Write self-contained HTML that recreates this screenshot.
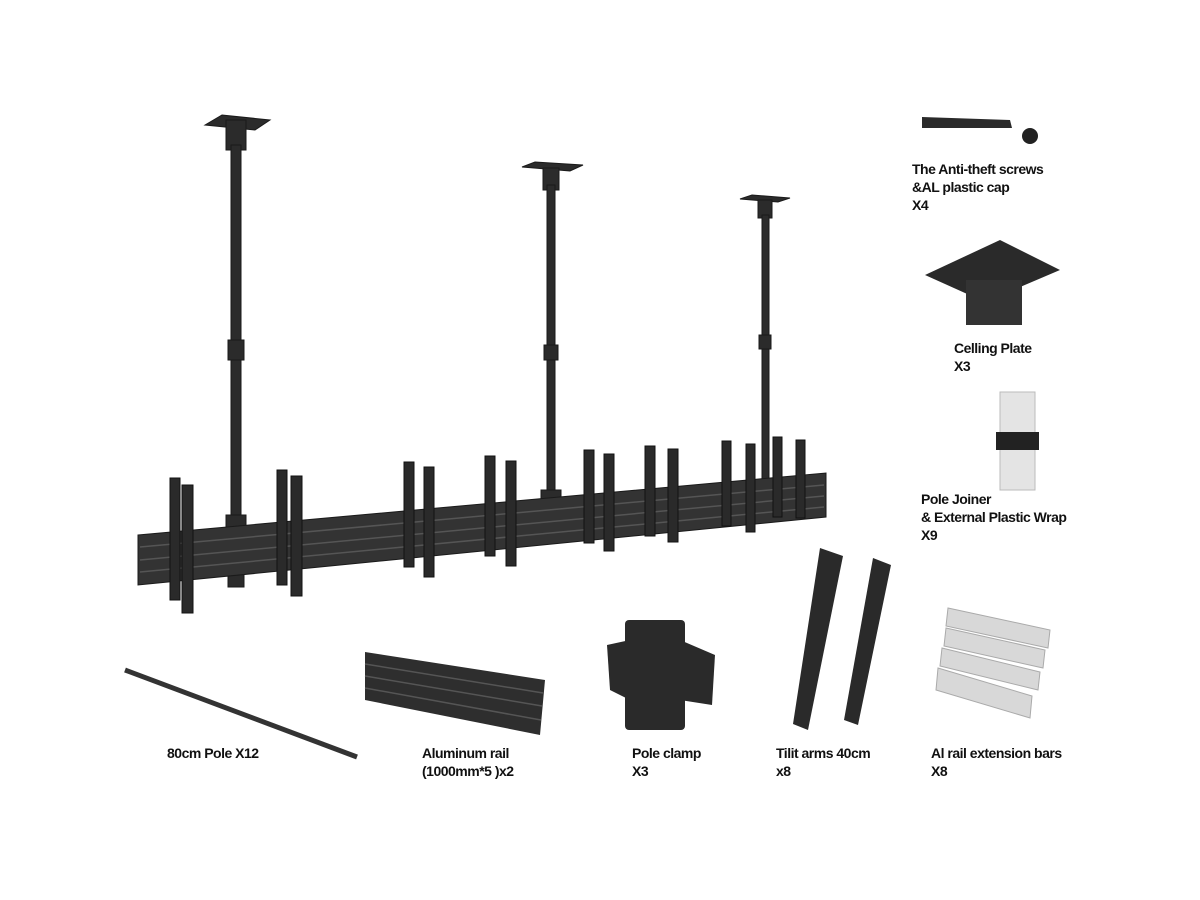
<!DOCTYPE html>
<html><head><meta charset="utf-8"><style>
body{margin:0;width:1200px;height:900px;background:#fff;overflow:hidden;position:relative;font-family:"Liberation Sans",sans-serif}
.t{position:absolute;font-weight:bold;font-size:14px;line-height:18px;color:#111;letter-spacing:-0.5px}
</style></head><body>
<svg width="1200" height="900" style="position:absolute;left:0;top:0">
<g fill="#2b2b2b" stroke="#1a1a1a">
<polygon points="205,125 222,115 270,120 255,130"/>
<rect x="226" y="120" width="20" height="30"/>
<rect x="231" y="145" width="10" height="440"/>
<rect x="228" y="340" width="16" height="20"/>
<rect x="226" y="515" width="20" height="15"/>
<rect x="228" y="565" width="16" height="22"/>
<polygon points="522,167 535,162 583,165 570,171"/>
<rect x="543" y="168" width="16" height="22"/>
<rect x="547" y="185" width="8" height="355"/>
<rect x="544" y="345" width="14" height="15"/>
<rect x="541" y="490" width="20" height="12"/>
<polygon points="740,199 752,195 790,198 778,202"/>
<rect x="758" y="200" width="14" height="18"/>
<rect x="762" y="215" width="7" height="300"/>
<rect x="759" y="335" width="12" height="14"/>
<polygon points="138,535 826,473 826,517 138,585" fill="#333"/>
</g>
<g stroke="#555" stroke-width="1.5">
<line x1="140" y1="547" x2="824" y2="485"/><line x1="140" y1="560" x2="824" y2="496"/><line x1="140" y1="572" x2="824" y2="507"/>
</g>
<g fill="#2a2a2a" stroke="#111">
<rect x="170" y="478" width="10" height="122"/><rect x="182" y="485" width="11" height="128"/>
<rect x="277" y="470" width="10" height="115"/><rect x="291" y="476" width="11" height="120"/>
<rect x="404" y="462" width="10" height="105"/><rect x="424" y="467" width="10" height="110"/>
<rect x="485" y="456" width="10" height="100"/><rect x="506" y="461" width="10" height="105"/>
<rect x="584" y="450" width="10" height="93"/><rect x="604" y="454" width="10" height="97"/>
<rect x="645" y="446" width="10" height="90"/><rect x="668" y="449" width="10" height="93"/>
<rect x="722" y="441" width="9" height="85"/><rect x="746" y="444" width="9" height="88"/>
<rect x="773" y="437" width="9" height="80"/><rect x="796" y="440" width="9" height="78"/>
</g>
<line x1="125" y1="670" x2="357" y2="757" stroke="#333" stroke-width="5"/>
<polygon points="365,652 545,680 540,735 365,700" fill="#2e2e2e"/>
<g stroke="#555" stroke-width="1.5"><line x1="365" y1="664" x2="543" y2="693"/><line x1="365" y1="676" x2="542" y2="706"/><line x1="365" y1="688" x2="541" y2="720"/></g>
<g fill="#2a2a2a">
<rect x="625" y="620" width="60" height="110" rx="4"/>
<polygon points="607,645 630,640 630,700 610,690"/>
<polygon points="680,640 715,655 712,705 680,700"/>
<polygon points="820,548 843,556 808,730 793,724"/>
<polygon points="873,558 891,565 858,725 844,720"/>
</g>
<g fill="#d8d8d8" stroke="#aaa">
<polygon points="948,608 1050,630 1048,648 946,626"/>
<polygon points="946,628 1045,650 1043,668 944,646"/>
<polygon points="942,648 1040,672 1038,690 940,666"/>
<polygon points="938,668 1032,696 1030,718 936,690"/>
</g>
<polygon points="922,117 1010,120 1012,128 922,128" fill="#2a2a2a"/>
<circle cx="1030" cy="136" r="8" fill="#222"/>
<polygon points="925,275 1000,240 1060,270 985,302" fill="#2a2a2a"/>
<rect x="966" y="280" width="56" height="45" fill="#333"/>
<rect x="1000" y="392" width="35" height="98" fill="#e4e4e4" stroke="#bbb"/>
<rect x="996" y="432" width="43" height="18" fill="#222"/>
</svg>
<div class="t" style="left:912px;top:160px">The Anti-theft screws<br>&amp;AL plastic cap<br>X4</div>
<div class="t" style="left:954px;top:339px">Celling Plate<br>X3</div>
<div class="t" style="left:921px;top:490px">Pole Joiner<br>&amp; External Plastic Wrap<br>X9</div>
<div class="t" style="left:167px;top:744px">80cm Pole X12</div>
<div class="t" style="left:422px;top:744px">Aluminum rail<br>(1000mm*5 )x2</div>
<div class="t" style="left:632px;top:744px">Pole clamp<br>X3</div>
<div class="t" style="left:776px;top:744px">Tilit arms 40cm<br>x8</div>
<div class="t" style="left:931px;top:744px">Al rail extension bars<br>X8</div>
</body></html>
